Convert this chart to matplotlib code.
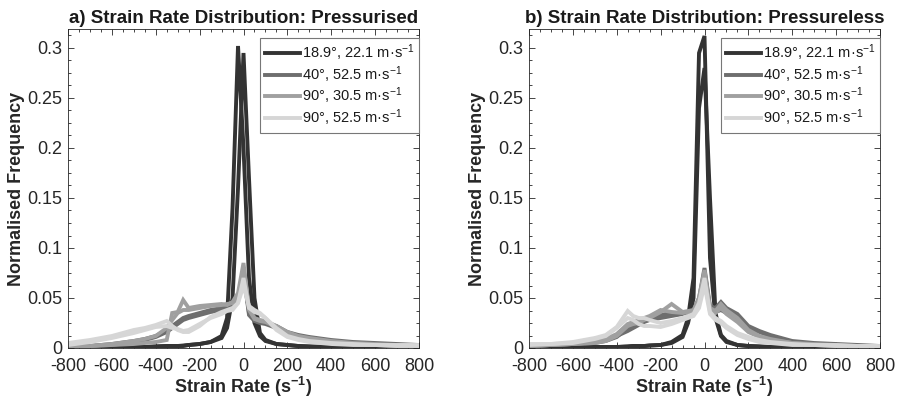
import numpy as np
import matplotlib
matplotlib.use("Agg")
import matplotlib.pyplot as plt
from matplotlib.ticker import MultipleLocator

plt.rcParams["font.family"] = ["Liberation Sans", "DejaVu Sans"]
plt.rcParams["mathtext.fontset"] = "custom"
plt.rcParams["mathtext.rm"] = "Liberation Sans"
plt.rcParams["mathtext.bf"] = "Liberation Sans:bold"
plt.rcParams["mathtext.default"] = "regular"
plt.rcParams["axes.unicode_minus"] = False

# strain rate bins (s^-1)
x = [-800, -700, -600, -500, -450, -400, -350, -325, -300, -275, -250, -200, -150, -100, -75, -50,
     -25, 0, 25, 50, 75, 100, 150, 200, 250, 300, 400, 500, 600, 700, 800]

labels = ["18.9°, 22.1 m·s$^{-1}$", "40°, 52.5 m·s$^{-1}$",
          "90°, 30.5 m·s$^{-1}$", "90°, 52.5 m·s$^{-1}$"]
colors = ["#333333", "#6e6e6e", "#a0a0a0", "#d6d6d6"]

# a) pressurised, two runs per case
a_k1 = [0, 0, 0.0005, 0.001, 0.001, 0.0015, 0.002, 0.002, 0.002, 0.0025, 0.003, 0.004, 0.006, 0.012, 0.03, 0.14,
        0.302, 0.2, 0.07, 0.025, 0.012, 0.007, 0.004, 0.003, 0.002, 0.0015, 0.001, 0.0005, 0, 0, 0]
a_k2 = [0, 0, 0.0005, 0.001, 0.001, 0.0015, 0.002, 0.002, 0.002, 0.002, 0.003, 0.004, 0.006, 0.01, 0.02, 0.05,
        0.16, 0.295, 0.17, 0.05, 0.015, 0.008, 0.004, 0.003, 0.002, 0.0015, 0.001, 0.0005, 0, 0, 0]
a_d1 = [0.001, 0.002, 0.004, 0.007, 0.009, 0.012, 0.018, 0.022, 0.026, 0.03, 0.032, 0.035, 0.038, 0.04, 0.042, 0.044,
        0.05, 0.08, 0.035, 0.028, 0.026, 0.025, 0.022, 0.016, 0.013, 0.011, 0.008, 0.006, 0.005, 0.004, 0.003]
a_d2 = [0.001, 0.002, 0.003, 0.006, 0.008, 0.011, 0.016, 0.02, 0.024, 0.028, 0.03, 0.033, 0.036, 0.038, 0.04, 0.042,
        0.048, 0.075, 0.033, 0.027, 0.025, 0.024, 0.02, 0.015, 0.012, 0.01, 0.007, 0.005, 0.004, 0.003, 0.002]
a_m1 = [0.001, 0.002, 0.003, 0.004, 0.005, 0.006, 0.008, 0.035, 0.036, 0.048, 0.04, 0.042, 0.043, 0.044, 0.043, 0.046,
        0.055, 0.085, 0.04, 0.03, 0.028, 0.027, 0.022, 0.016, 0.012, 0.01, 0.007, 0.005, 0.004, 0.003, 0.002]
a_m2 = [0.001, 0.002, 0.004, 0.007, 0.009, 0.012, 0.02, 0.028, 0.035, 0.038, 0.038, 0.04, 0.042, 0.043, 0.044, 0.045,
        0.05, 0.078, 0.038, 0.029, 0.027, 0.026, 0.021, 0.015, 0.011, 0.009, 0.006, 0.004, 0.003, 0.002, 0.002]
a_l1 = [0.005, 0.008, 0.012, 0.018, 0.02, 0.023, 0.027, 0.022, 0.018, 0.016, 0.016, 0.022, 0.031, 0.036, 0.038, 0.04,
        0.045, 0.07, 0.04, 0.036, 0.034, 0.03, 0.02, 0.012, 0.009, 0.007, 0.005, 0.004, 0.003, 0.003, 0.003]
a_l2 = [0.003, 0.006, 0.01, 0.015, 0.018, 0.021, 0.022, 0.02, 0.019, 0.017, 0.018, 0.024, 0.03, 0.034, 0.037, 0.038,
        0.045, 0.062, 0.042, 0.038, 0.035, 0.03, 0.018, 0.011, 0.008, 0.006, 0.004, 0.003, 0.003, 0.002, 0.002]

# b) pressureless
b_k1 = [0, 0, 0.0005, 0.001, 0.001, 0.001, 0.0015, 0.002, 0.002, 0.002, 0.0025, 0.003, 0.006, 0.013, 0.03, 0.07,
        0.295, 0.312, 0.09, 0.03, 0.012, 0.006, 0.003, 0.002, 0.0015, 0.001, 0.0005, 0, 0, 0, 0]
b_k2 = [0, 0, 0.0005, 0.001, 0.001, 0.001, 0.0015, 0.002, 0.002, 0.002, 0.0025, 0.003, 0.005, 0.011, 0.025, 0.05,
        0.24, 0.28, 0.15, 0.035, 0.013, 0.007, 0.003, 0.002, 0.0015, 0.001, 0.0005, 0, 0, 0, 0]
b_d1 = [0.002, 0.003, 0.004, 0.006, 0.008, 0.012, 0.017, 0.02, 0.023, 0.026, 0.028, 0.03, 0.032, 0.034, 0.036, 0.038,
        0.05, 0.08, 0.042, 0.04, 0.046, 0.04, 0.034, 0.022, 0.017, 0.013, 0.007, 0.005, 0.004, 0.003, 0.002]
b_d2 = [0.002, 0.003, 0.004, 0.005, 0.007, 0.011, 0.02, 0.022, 0.025, 0.028, 0.03, 0.033, 0.035, 0.035, 0.036, 0.037,
        0.045, 0.076, 0.04, 0.036, 0.038, 0.035, 0.03, 0.02, 0.016, 0.012, 0.006, 0.004, 0.003, 0.002, 0.002]
b_m1 = [0.002, 0.003, 0.004, 0.005, 0.007, 0.012, 0.022, 0.024, 0.025, 0.028, 0.03, 0.036, 0.044, 0.036, 0.037, 0.038,
        0.05, 0.078, 0.04, 0.037, 0.044, 0.038, 0.03, 0.018, 0.012, 0.009, 0.005, 0.004, 0.003, 0.002, 0.001]
b_m2 = [0.002, 0.003, 0.004, 0.006, 0.009, 0.014, 0.024, 0.026, 0.028, 0.03, 0.032, 0.038, 0.036, 0.035, 0.036, 0.037,
        0.046, 0.074, 0.038, 0.035, 0.04, 0.034, 0.026, 0.016, 0.011, 0.008, 0.005, 0.003, 0.002, 0.002, 0.001]
b_l1 = [0.004, 0.004, 0.006, 0.01, 0.013, 0.021, 0.037, 0.032, 0.03, 0.03, 0.028, 0.025, 0.027, 0.03, 0.032, 0.034,
        0.045, 0.07, 0.036, 0.03, 0.027, 0.022, 0.015, 0.011, 0.008, 0.006, 0.004, 0.003, 0.003, 0.002, 0.002]
b_l2 = [0.003, 0.004, 0.005, 0.009, 0.012, 0.02, 0.03, 0.028, 0.024, 0.022, 0.022, 0.021, 0.024, 0.028, 0.03, 0.032,
        0.04, 0.063, 0.034, 0.028, 0.025, 0.02, 0.013, 0.009, 0.006, 0.005, 0.003, 0.003, 0.002, 0.002, 0.002]

panels = [
    ("a) Strain Rate Distribution: Pressurised", [[a_k1, a_k2], [a_d1, a_d2], [a_m1, a_m2], [a_l1, a_l2]]),
    ("b) Strain Rate Distribution: Pressureless", [[b_k1, b_k2], [b_d1, b_d2], [b_m1, b_m2], [b_l1, b_l2]]),
]

txt = "#262626"
fig = plt.figure(figsize=(8.98, 4.03), dpi=100)
lefts = [68 / 898, 529 / 898]

for i, (title, groups) in enumerate(panels):
    ax = fig.add_axes([lefts[i], 55 / 403, 351 / 898, 319 / 403])
    handles = []
    for runs, c, lab in zip(groups, colors, labels):
        for j, y in enumerate(runs):
            ln, = ax.plot(x, y, color=c, lw=2.8, solid_joinstyle="miter")
            if j == 0:
                ln.set_label(lab)
                handles.append(ln)
    ax.set_xlim(-800, 800)
    ax.set_ylim(0, 0.319)
    ax.set_xticks(np.arange(-800, 801, 200))
    ax.set_yticks([0, 0.05, 0.1, 0.15, 0.2, 0.25, 0.3])
    ax.set_yticklabels(["0", "0.05", "0.1", "0.15", "0.2", "0.25", "0.3"])
    ax.xaxis.set_minor_locator(MultipleLocator(50))
    ax.yaxis.set_minor_locator(MultipleLocator(0.0125))
    ax.tick_params(which="both", direction="in", top=True, right=True, colors=txt, labelsize=13, width=0.6)
    ax.tick_params(which="major", length=4)
    ax.tick_params(which="minor", length=2)
    ax.tick_params(axis="x", pad=7)
    ax.tick_params(axis="y", pad=4)
    for s in ax.spines.values():
        s.set_color(txt)
        s.set_linewidth(0.6)
    ax.set_title(title, fontsize=13.5, fontweight="bold", color="#1a1a1a", pad=4)
    ax.set_xlabel(r"Strain Rate (s$^{\mathbf{-1}}$)", fontsize=13, fontweight="bold", color=txt, labelpad=0)
    ax.set_ylabel("Normalised Frequency", fontsize=13, fontweight="bold", color=txt, labelpad=2)
    leg = ax.legend(handles=handles, loc="upper right", bbox_to_anchor=(1.0, 0.972), borderaxespad=0,
                    fontsize=10.5, handlelength=2.4, handletextpad=0.15, labelspacing=0.08,
                    fancybox=False, framealpha=1, edgecolor="#777777", borderpad=0.3)
    leg.get_frame().set_linewidth(0.8)
    for t in leg.get_texts():
        t.set_color("#1a1a1a")

fig.savefig("out.png", dpi=100)
